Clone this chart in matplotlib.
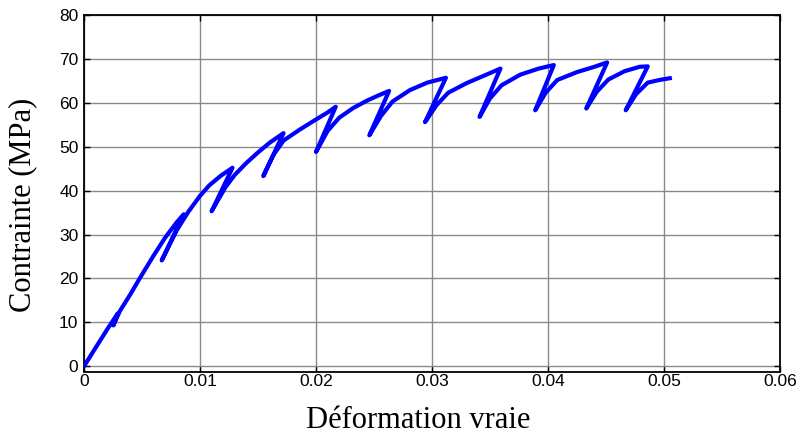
import numpy as np
import matplotlib
matplotlib.use("Agg")
import matplotlib.pyplot as plt

# true strain / stress path (loading-unloading cycles)
strain = [
    0.0, 0.0010, 0.0020, 0.0029, 0.00253, 0.0031, 0.0040, 0.0048, 0.0060,
    0.0070, 0.0080, 0.0086,
    0.0067,
    0.0080, 0.0090, 0.0100, 0.0108, 0.0118, 0.0128,
    0.0110,
    0.0122, 0.0130, 0.0140, 0.0150, 0.0160, 0.0172,
    0.01546,
    0.0163, 0.0172, 0.0186, 0.0200, 0.0210, 0.0217,
    0.0200,
    0.0210, 0.0220, 0.0232, 0.0244, 0.0254, 0.0263,
    0.0246,
    0.0256, 0.0266, 0.0281, 0.0296, 0.0312,
    0.0294,
    0.0304, 0.0314, 0.0330, 0.0345, 0.0359,
    0.0341,
    0.0350, 0.0360, 0.0376, 0.0392, 0.0405,
    0.0389,
    0.0398, 0.0408, 0.0425, 0.0440, 0.0451,
    0.0433,
    0.0442, 0.0452, 0.0466, 0.0479, 0.0486,
    0.0467,
    0.0476, 0.0486, 0.0496, 0.0505,
]
stress = [
    0.0, 4.2, 8.4, 12.0, 9.3, 12.6, 16.4, 20.0, 25.2,
    29.3, 32.8, 34.6,
    24.1,
    31.0, 35.2, 38.8, 41.2, 43.4, 45.2,
    35.3,
    40.8, 43.6, 46.3, 48.7, 50.9, 53.1,
    43.3,
    48.0, 51.4, 53.9, 56.2, 57.8, 59.1,
    48.8,
    53.6, 56.6, 58.8, 60.5, 61.7, 62.7,
    52.6,
    57.0, 60.3, 62.9, 64.6, 65.7,
    55.6,
    59.5, 62.3, 64.5, 66.2, 67.8,
    56.8,
    61.0, 64.0, 66.4, 67.8, 68.6,
    58.3,
    62.3, 65.2, 67.0, 68.2, 69.2,
    58.7,
    62.5, 65.3, 67.2, 68.2, 68.3,
    58.3,
    62.0, 64.6, 65.2, 65.6,
]

xticks = [0, 0.01, 0.02, 0.03, 0.04, 0.05, 0.06]
xticklabels = ["0", "0.01", "0.02", "0.03", "0.04", "0.05", "0.06"]
yticks = [0, 10, 20, 30, 40, 50, 60, 70, 80]


def main():
    fig = plt.figure(figsize=(8.03, 4.41), dpi=100)
    ax = fig.add_axes([84 / 803, 1 - 371.5 / 441, 696 / 803, 356.5 / 441])

    ax.plot(np.array(strain), np.array(stress), color="#0000ff", lw=3.0,
            solid_joinstyle="round", zorder=3)

    ax.set_xlim(0, 0.06)
    ax.set_ylim(-1.2, 80)
    ax.set_xticks(xticks)
    ax.set_xticklabels(xticklabels)
    ax.set_yticks(yticks)

    ax.set_axisbelow(True)
    ax.grid(True, color="#8a8a8a", lw=1.0)
    ax.tick_params(direction="in", length=4, width=1, top=True, right=True,
                   labelsize=12.5, colors="black")
    ax.tick_params(axis="x", pad=2)
    ax.tick_params(axis="y", pad=4)
    for lab in ax.get_xticklabels() + ax.get_yticklabels():
        lab.set_family("Liberation Sans")
    for sp in ax.spines.values():
        sp.set_linewidth(1.3)
        sp.set_color("black")

    fig.text(23 / 803, 1 - 205 / 441, "Contrainte (MPa)", rotation=90,
             ha="center", va="center", family="Liberation Serif", fontsize=22)
    fig.text(418 / 803, 1 - 420 / 441, "Déformation vraie",
             ha="center", va="center", family="Liberation Serif", fontsize=22)

    fig.savefig("out.png", dpi=100)


if __name__ == "__main__":
    main()
